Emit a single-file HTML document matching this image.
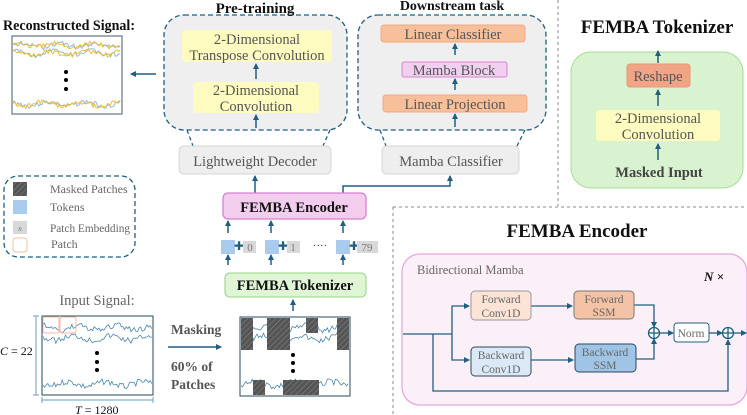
<!DOCTYPE html>
<html><head><meta charset="utf-8"><style>
html,body{margin:0;padding:0;background:#fff;}
svg{display:block;font-family:"Liberation Serif",serif;}
</style></head><body>
<svg id="s" width="747" height="415" viewBox="0 0 747 415" xmlns="http://www.w3.org/2000/svg">
<defs>
<marker id="ah" markerWidth="6" markerHeight="6" refX="5" refY="3" orient="auto" markerUnits="userSpaceOnUse"><path d="M0,0 L6,3 L0,6 z" fill="#1f5f80"/></marker>
<pattern id="hatch" width="4" height="4" patternUnits="userSpaceOnUse" patternTransform="rotate(45)"><rect width="4" height="4" fill="#555"/><line x1="0" y1="0" x2="0" y2="4" stroke="#888" stroke-width="1"/></pattern>
</defs>
<g stroke="#1f5f80" stroke-width="1.3" fill="none">
<rect x="164" y="15" width="183" height="115" rx="20" fill="#efefef" stroke-dasharray="5,3"/>
<rect x="358" y="15" width="188" height="115" rx="20" fill="#efefef" stroke-dasharray="5,3"/>
<line x1="187" y1="130" x2="193" y2="146" stroke-dasharray="4,3"/>
<line x1="330" y1="130" x2="323" y2="146" stroke-dasharray="4,3"/>
<line x1="380" y1="130" x2="386" y2="146" stroke-dasharray="4,3"/>
<line x1="525" y1="130" x2="517" y2="146" stroke-dasharray="4,3"/>
<rect x="4" y="176" width="131" height="81" rx="14" stroke-dasharray="5,3" fill="none"/>
</g>
<g font-size="15" font-weight="bold" text-anchor="middle" fill="#111">
<text x="255" y="13">Pre-training</text>
<text x="452" y="10" font-size="14">Downstream task</text>
<text x="3" y="30" font-size="15" text-anchor="start" textLength="132" lengthAdjust="spacingAndGlyphs">Reconstructed Signal:</text>
<text x="657" y="33" font-size="19">FEMBA Tokenizer</text>
<text x="577" y="237" font-size="19">FEMBA Encoder</text>
</g>
<g font-size="14.5" fill="#555" text-anchor="middle">
<rect x="182" y="30" width="150" height="32" rx="4" fill="#fdfbbf"/>
<text x="257" y="44">2-Dimensional</text><text x="257" y="60">Transpose Convolution</text>
<rect x="193" y="82" width="126" height="31" rx="4" fill="#fdfbbf"/>
<text x="256" y="95">2-Dimensional</text><text x="256" y="111">Convolution</text>
<rect x="179" y="146" width="152" height="28" rx="5" fill="#eeeeee" stroke="#d6d6d6"/>
<text x="255" y="166">Lightweight Decoder</text>
<rect x="381" y="25" width="144" height="17" rx="3" fill="#f8c09a" stroke="#f0a880"/>
<text x="453" y="39">Linear Classifier</text>
<rect x="402" y="62" width="105" height="15" rx="2" fill="#f0d0ee" stroke="#d883d0"/>
<text x="454" y="75">Mamba Block</text>
<rect x="383" y="95" width="144" height="17" rx="3" fill="#f8c09a" stroke="#f0a880"/>
<text x="455" y="109">Linear Projection</text>
<rect x="382" y="146" width="137" height="28" rx="5" fill="#eeeeee" stroke="#d6d6d6"/>
<text x="451" y="166">Mamba Classifier</text>
<rect x="571" y="52" width="172" height="136" rx="20" fill="#d9f2d0" stroke="#a8dc98"/>
<rect x="627" y="64" width="63" height="23" rx="3" fill="#f2a586" stroke="#e89878"/>
<text x="658" y="81">Reshape</text>
<rect x="596" y="110" width="124" height="31" rx="3" fill="#fdfbbf"/>
<text x="658" y="123">2-Dimensional</text><text x="658" y="139">Convolution</text>
<text x="659" y="177" font-weight="bold" fill="#444" font-size="14.5">Masked Input</text>
</g>
<g stroke="#888" stroke-width="1" stroke-dasharray="3,3" fill="none">
<line x1="558" y1="0" x2="558" y2="206"/>
<line x1="393" y1="207" x2="747" y2="207"/>
<line x1="393" y1="207" x2="393" y2="415"/>
</g>
<g stroke="#1f5f80" stroke-width="1.5" fill="none" marker-end="url(#ah)">
<line x1="156" y1="74" x2="131" y2="74"/>
<line x1="256" y1="79" x2="256" y2="64"/>
<line x1="256" y1="128" x2="256" y2="115"/>
<line x1="455" y1="55" x2="455" y2="44"/>
<line x1="455" y1="90" x2="455" y2="79"/>
<line x1="455" y1="127" x2="455" y2="114"/>
<line x1="658" y1="63" x2="658" y2="51"/>
<line x1="658" y1="106" x2="658" y2="90"/>
<line x1="658" y1="160" x2="658" y2="144"/>
<line x1="255" y1="193" x2="255" y2="176"/>
<polyline points="343,193 343,186 450,186 450,176"/>
<line x1="228" y1="233" x2="228" y2="221"/>
<line x1="271" y1="233" x2="271" y2="221"/>
<line x1="343" y1="233" x2="343" y2="221"/>
<line x1="228" y1="265" x2="228" y2="255"/>
<line x1="271" y1="265" x2="271" y2="255"/>
<line x1="343" y1="265" x2="343" y2="255"/>
<line x1="293" y1="311" x2="293" y2="300"/>
<line x1="168" y1="347" x2="221" y2="347"/>
</g>
<rect x="223" y="193" width="143" height="26" rx="5" fill="#f2cdee" stroke="#d87ed0" stroke-width="1.3"/>
<text x="294" y="212" font-size="14.5" font-weight="bold" text-anchor="middle" fill="#111">FEMBA Encoder</text>
<rect x="225" y="273" width="141" height="24" rx="5" fill="#dff5d6" stroke="#a8dc98" stroke-width="1.3"/>
<text x="295" y="290" font-size="14.5" font-weight="bold" text-anchor="middle" fill="#111">FEMBA Tokenizer</text>
<g font-size="11" fill="#777" text-anchor="middle">
<rect x="221" y="240" width="14" height="14" fill="#a9cbed"/><text x="239" y="250" fill="#1f5f80" font-size="12">✚</text><rect x="243" y="241" width="13" height="12" fill="#d8d8d8"/><text x="250" y="251">0</text>
<rect x="265" y="240" width="14" height="14" fill="#a9cbed"/><text x="283" y="250" fill="#1f5f80" font-size="12">✚</text><rect x="287" y="241" width="13" height="12" fill="#d8d8d8"/><text x="293" y="251">1</text>
<text x="320" y="249" fill="#333">····</text>
<rect x="336" y="240" width="14" height="14" fill="#a9cbed"/><text x="354" y="250" fill="#1f5f80" font-size="12">✚</text><rect x="357" y="241" width="21" height="12" fill="#d8d8d8"/><text x="367" y="251">79</text>
</g>
<g font-size="12" fill="#666">
<rect x="13" y="182" width="14" height="14" fill="url(#hatch)"/><text x="50" y="193">Masked Patches</text>
<rect x="13" y="200" width="14" height="14" fill="#a9cbed"/><text x="50" y="211">Tokens</text>
<rect x="13" y="221" width="14" height="13" fill="#d8d8d8"/><text x="20" y="231" font-size="7" font-style="italic" text-anchor="middle">n</text><text x="50" y="232" textLength="80" lengthAdjust="spacingAndGlyphs">Patch Embedding</text>
<rect x="13" y="238" width="14" height="14" rx="3" fill="#fff" stroke="#f4c0a8"/><text x="51" y="248">Patch</text>
</g>
<rect x="12" y="36" width="110" height="78" fill="#fff" stroke="#6f8090" stroke-width="1.3"/>
<g id="rec"></g>
<circle cx="66" cy="72" r="2" fill="#000"/><circle cx="66" cy="80" r="2" fill="#000"/><circle cx="66" cy="89" r="2" fill="#000"/>
<text x="97" y="305" font-size="14.5" fill="#666" text-anchor="middle">Input Signal:</text>
<rect x="42" y="316" width="111" height="79" fill="#fff" stroke="#2a4a5a" stroke-width="1"/>
<g id="sig"></g>
<rect x="43" y="317" width="16" height="16" rx="2" fill="none" stroke="#f4b8a0"/>
<rect x="60" y="317" width="16" height="16" rx="2" fill="none" stroke="#f4b8a0"/>
<g stroke="#6aa0c0" stroke-width="1" fill="none">
<line x1="36" y1="316" x2="36" y2="395"/><line x1="33" y1="316" x2="39" y2="316"/><line x1="33" y1="395" x2="39" y2="395"/>
<line x1="42" y1="400" x2="153" y2="400"/><line x1="42" y1="397" x2="42" y2="403"/><line x1="153" y1="397" x2="153" y2="403"/>
</g>
<text x="0" y="355" font-size="12" fill="#111"><tspan font-style="italic">C</tspan> = 22</text>
<text x="75" y="414" font-size="12" fill="#111"><tspan font-style="italic">T</tspan> = 1280</text>
<circle cx="97" cy="353" r="2" fill="#000"/><circle cx="97" cy="362" r="2" fill="#000"/><circle cx="97" cy="370" r="2" fill="#000"/>
<g font-size="13.5" font-weight="bold" fill="#555">
<text x="171" y="334">Masking</text><text x="171" y="371">60% of</text><text x="171" y="389">Patches</text>
</g>
<rect x="240" y="317" width="110" height="79" fill="#fff" stroke="#2a4a5a" stroke-width="1"/>
<g id="sig2"></g>
<g fill="url(#hatch)">
<rect x="241" y="318" width="12" height="32"/><rect x="267" y="318" width="23" height="32"/>
<rect x="306" y="318" width="12" height="15"/><rect x="337" y="318" width="12" height="32"/>
<rect x="253" y="380" width="12" height="15"/><rect x="283" y="380" width="36" height="15"/>
</g>
<circle cx="293" cy="355" r="2" fill="#000"/><circle cx="293" cy="363" r="2" fill="#000"/><circle cx="293" cy="371" r="2" fill="#000"/>
<rect x="402" y="254" width="345" height="151" rx="18" fill="#fbf0f8" stroke="#e6a8e0" stroke-width="1.3"/>
<text x="417" y="274" font-size="12.5" fill="#666">Bidirectional Mamba</text>
<text x="704" y="281" font-size="13" font-weight="bold" font-style="italic" fill="#111">N ×</text>
<g stroke="#1f5f80" stroke-width="1.3" fill="none">
<polyline points="403,334 452,334"/>
<polyline points="452,334 452,306 469,306" marker-end="url(#ah)"/>
<polyline points="452,334 452,360 469,360" marker-end="url(#ah)"/>
<line x1="531" y1="306" x2="572" y2="306" marker-end="url(#ah)"/>
<line x1="531" y1="360" x2="573" y2="360" marker-end="url(#ah)"/>
<polyline points="634,305 654,305 654,327" marker-end="url(#ah)"/>
<polyline points="636,359 654,359 654,339" marker-end="url(#ah)"/>
<line x1="660" y1="333" x2="673" y2="333" marker-end="url(#ah)"/>
<line x1="709" y1="333" x2="722" y2="333" marker-end="url(#ah)"/>
<line x1="734" y1="333" x2="746" y2="333" marker-end="url(#ah)"/>
<polyline points="433,334 433,391 728,391 728,340" marker-end="url(#ah)"/>
<circle cx="654" cy="333" r="5.5" fill="#fff"/><line x1="648.5" y1="333" x2="659.5" y2="333"/><line x1="654" y1="327.5" x2="654" y2="338.5"/>
<circle cx="728" cy="333" r="5.5" fill="#fff"/><line x1="722.5" y1="333" x2="733.5" y2="333"/><line x1="728" y1="327.5" x2="728" y2="338.5"/>
</g>
<g font-size="11.5" fill="#666" text-anchor="middle">
<rect x="471" y="291" width="60" height="29" rx="4" fill="#fbe3d6" stroke="#999"/><text x="501" y="303">Forward</text><text x="501" y="317">Conv1D</text>
<rect x="574" y="291" width="60" height="28" rx="4" fill="#f4c3a6" stroke="#777"/><text x="604" y="303">Forward</text><text x="604" y="316">SSM</text>
<rect x="471" y="347" width="60" height="29" rx="4" fill="#dbe8f5" stroke="#2a4a5a"/><text x="501" y="359">Backward</text><text x="501" y="373">Conv1D</text>
<rect x="575" y="344" width="61" height="28" rx="4" fill="#a0c4e6" stroke="#2a4a5a"/><text x="605" y="356">Backward</text><text x="605" y="369">SSM</text>
<rect x="674" y="323" width="35" height="19" rx="3" fill="#fff" stroke="#1f5f80"/><text x="691" y="337">Norm</text>
</g>
<script>
function sq(x0,x1,y,amp,seed){var p=[],s=seed;for(var x=x0;x<=x1;x+=1.6){s=(s*9301+49297)%233280;p.push(x.toFixed(1)+','+(y+(s/233280-0.5)*amp+Math.sin(x/6+seed)*amp*0.4).toFixed(1));}return p.join(' ');}
var ns='http://www.w3.org/2000/svg';
function add(g,pts,c,w){var e=document.createElementNS(ns,'polyline');e.setAttribute('points',pts);e.setAttribute('fill','none');e.setAttribute('stroke',c);e.setAttribute('stroke-width',w);document.getElementById(g).appendChild(e);}
[[45,1],[53,2],[104,3]].forEach(function(a){add('rec',sq(13,121,a[0],5,a[1]),'#8ab4cc',0.9);add('rec',sq(13,121,a[0],5,a[1]+7),'#f0b820',0.9);});
[[328,4],[338,5],[384,6]].forEach(function(a){add('sig',sq(43,152,a[0],6,a[1]),'#4a86a8',0.8);});
[[328,4],[338,5],[384,6]].forEach(function(a){add('sig2',sq(241,349,a[0],6,a[1]),'#4a86a8',0.8);});
</script>
</svg>
</body></html>
